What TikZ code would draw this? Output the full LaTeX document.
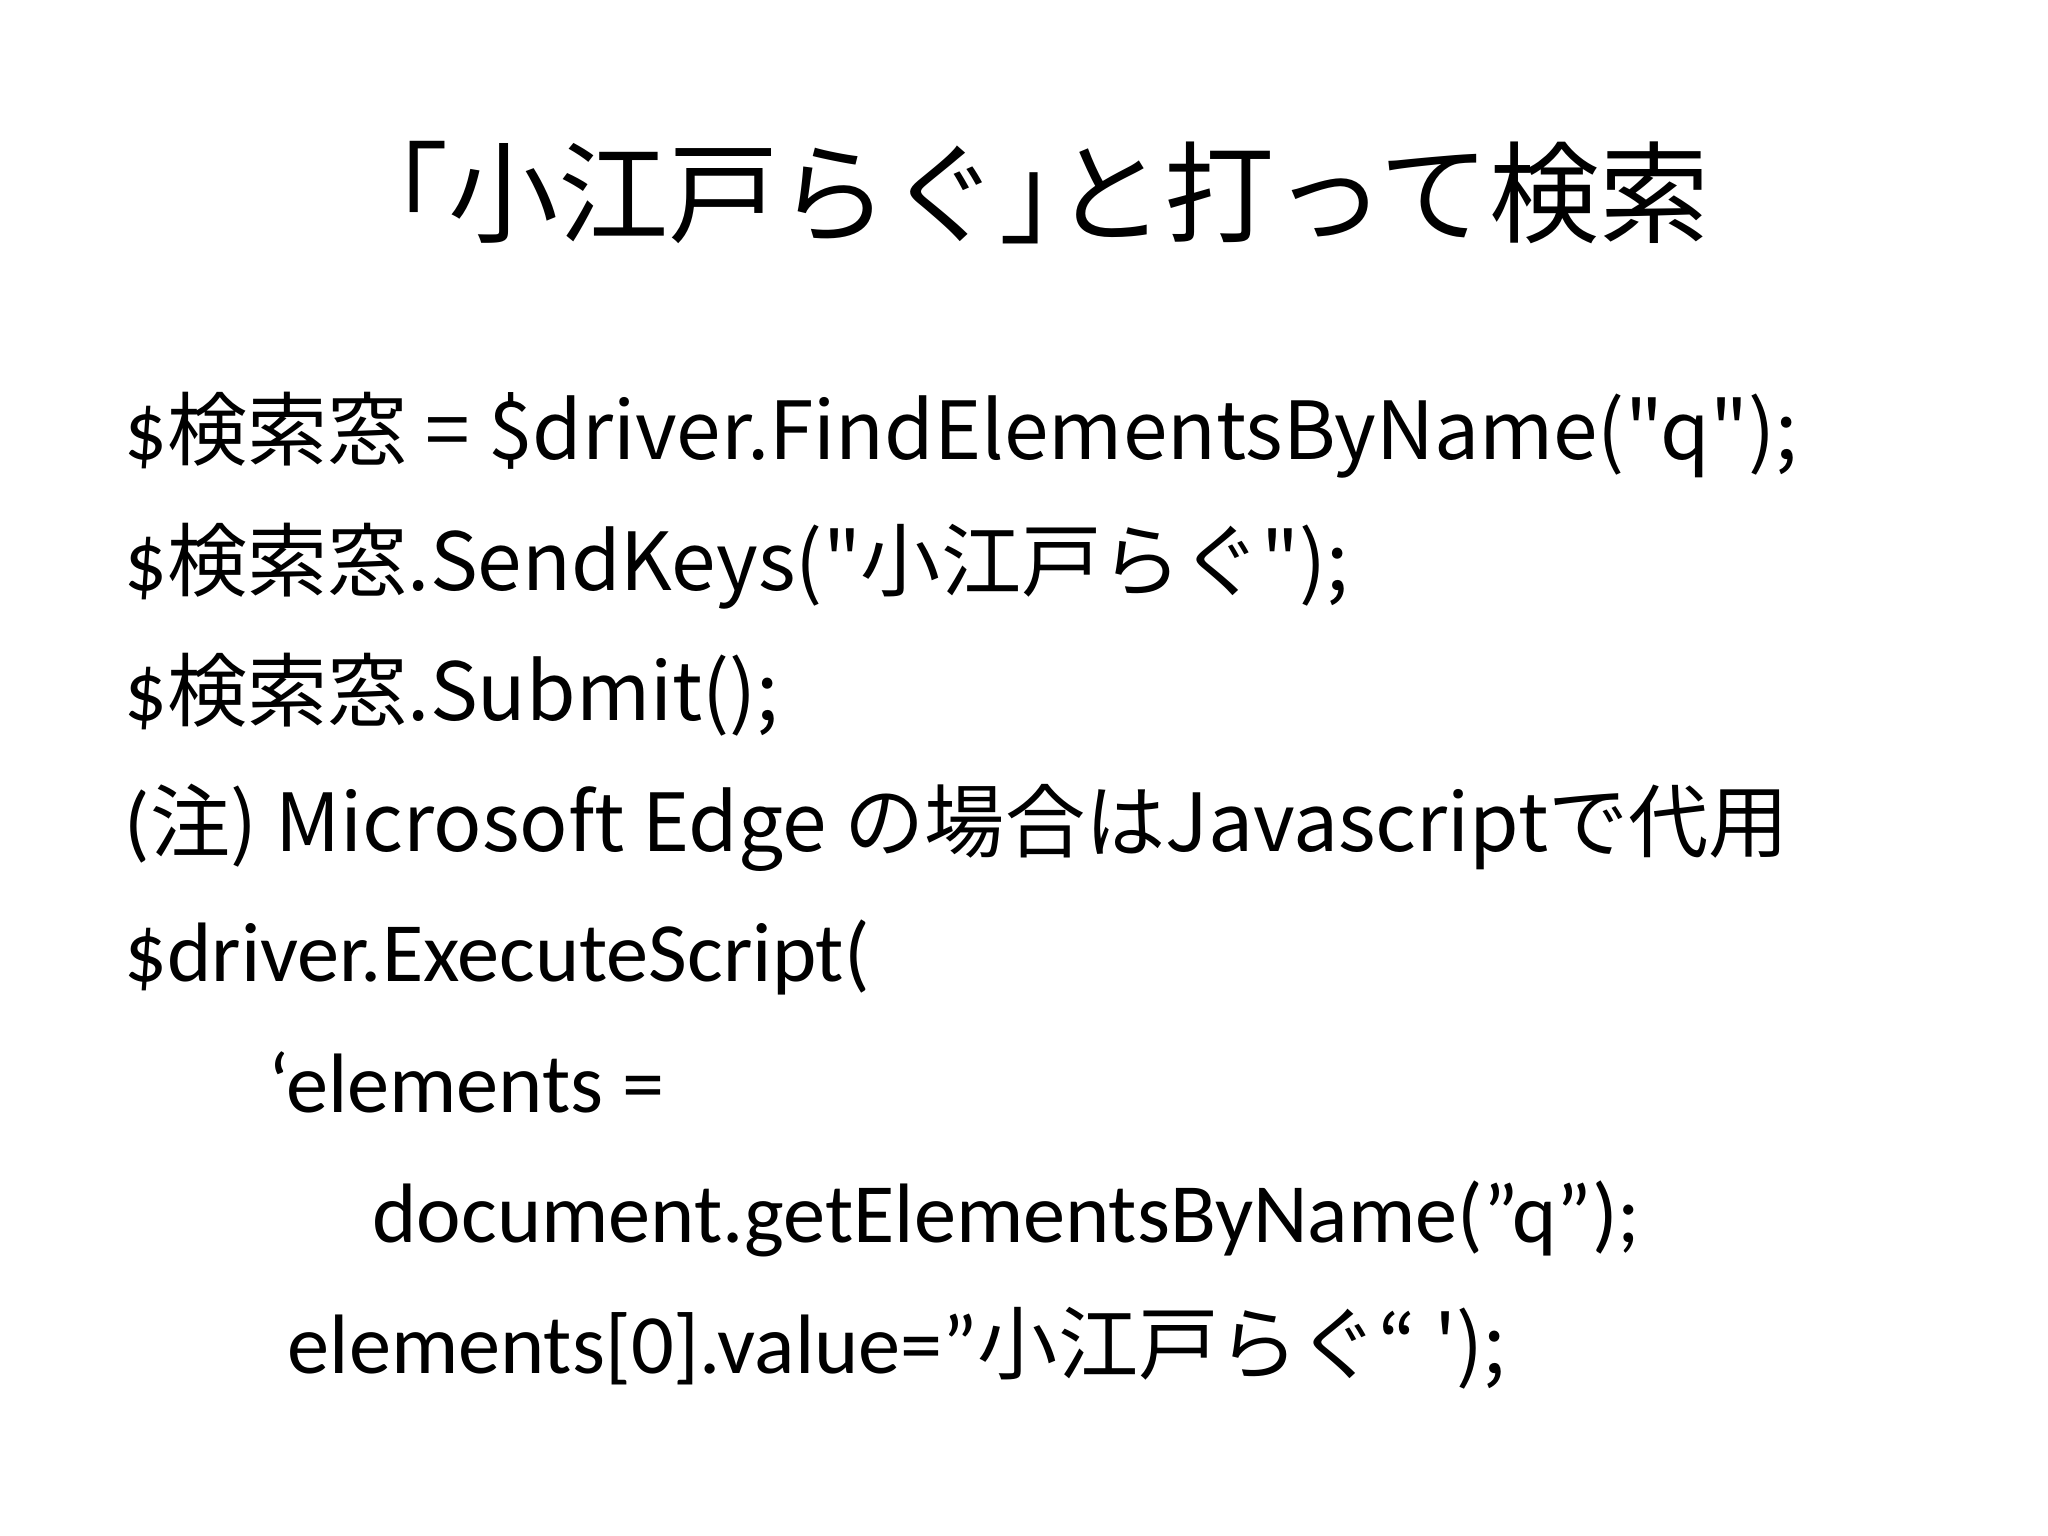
\documentclass[tikz,border=0pt]{standalone}
\usepackage{fontspec}
\setmainfont{Carlito}[Ligatures=ResetAll]
\newfontfamily\jp{Noto Sans CJK JP}[Scale=0.95]
\newcommand\dq{\char"22\relax}
\begin{document}
\begin{tikzpicture}[line/.style={anchor=base west,inner sep=0pt,font=\fontsize{24}{30}\selectfont}]
\useasboundingbox[fill=white] (0,0) rectangle (20.48,15.36);
\node[anchor=base,inner sep=0pt,font=\fontsize{33}{40}\selectfont\jp] (title) at (10.24,13.01) {「小江戸らぐ」\kern-0.5em と打って検索};
\node[line] (l1) at (1.24,10.76) {\$\jp{検索窓} = \$driver.FindElementsByName(\dq q\dq);};
\node[line] (l2) at (1.24,9.45) {\$\jp{検索窓}.SendKeys(\dq\jp{小江戸らぐ}\dq);};
\node[line] (l3) at (1.24,8.15) {\$\jp{検索窓}.Submit();};
\node[line] (l4) at (1.24,6.84) {(\jp{注}) Microsoft Edge \jp{の場合は}Javascript\jp{で代用}};
\node[line] (l5) at (1.24,5.54) {\$driver.ExecuteScript(};
\node[line] (l6) at (2.68,4.23) {‘elements =};
\node[line] (l7) at (3.72,2.93) {document.getElementsByName(\dq q\dq);};
\node[line] (l8) at (2.87,1.62) {elements[0].value=\dq\jp{小江戸らぐ}“ ');};
\end{tikzpicture}
\end{document}
